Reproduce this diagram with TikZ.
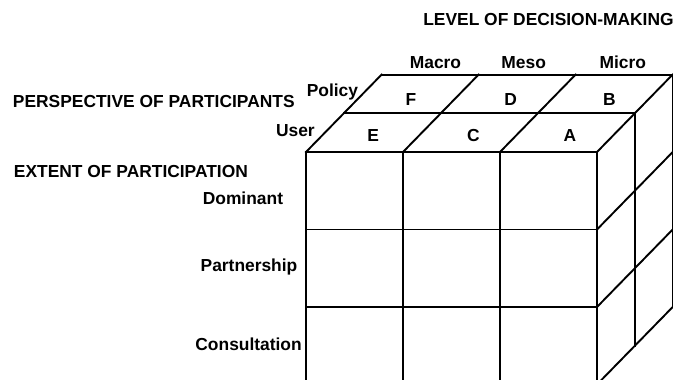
\documentclass[tikz,border=0pt]{standalone}
\usepackage{fontspec}
\setmainfont{Liberation Sans}
\usetikzlibrary{calc}

\begin{document}
\begin{tikzpicture}[x=1pt,y=-1pt,line width=1.9pt,line cap=rect,
  every node/.style={font=\fontsize{17.4}{20}\selectfont\bfseries,inner sep=0pt}]
  \clip (0,0) rectangle (673,380);

  \coordinate (O) at (306,152);

  % front face
  \foreach \i in {0,...,3} {
    \draw ($(O)+(\i*97,0)$) -- ++(0,232.5);
    \draw ($(O)+(0,\i*77.5)$) -- ++(291,0);
  }
  % top face
  \foreach \k in {1,2}
    \draw ($(O)+(\k*37.8,-\k*38.7)$) -- ++(291,0);
  \foreach \i in {0,...,3}
    \draw ($(O)+(\i*97,0)$) -- ++(75.6,-77.4);
  % right face
  \foreach \k in {1,2}
    \draw ($(O)+(291+\k*37.8,-\k*38.7)$) -- ++(0,232.5);
  \foreach \j in {1,2,3}
    \draw ($(O)+(291,\j*77.5)$) -- ++(75.6,-77.4);

  \node[anchor=base] (level) at (548.5,25) {LEVEL OF DECISION-MAKING};
  \node[anchor=base west] (persp) at (12,107.5) {PERSPECTIVE OF PARTICIPANTS};
  \node[anchor=base west] (extent) at (13,177) {EXTENT OF PARTICIPATION};

  \node[anchor=base] (macro) at (435.5,68) {Macro};
  \node[anchor=base] (meso) at (523.7,68) {Meso};
  \node[anchor=base] (micro) at (622.8,68) {Micro};

  \node[anchor=base east] (policy) at (359,96.5) {Policy};
  \node[anchor=base east] (user) at (315.7,136.5) {User};

  \node[anchor=base] (F) at (411,105) {F};
  \node[anchor=base] (D) at (510.7,105) {D};
  \node[anchor=base] (B) at (609.3,105) {B};
  \node[anchor=base] (E) at (373.3,141) {E};
  \node[anchor=base] (C) at (473.3,141.5) {C};
  \node[anchor=base] (A) at (570,141.5) {A};

  \node[anchor=base east] (dominant) at (284,204) {Dominant};
  \node[anchor=base east] (partner) at (298.3,271.5) {Partnership};
  \node[anchor=base east] (consult) at (302.7,350) {Consultation};
\end{tikzpicture}
\end{document}
